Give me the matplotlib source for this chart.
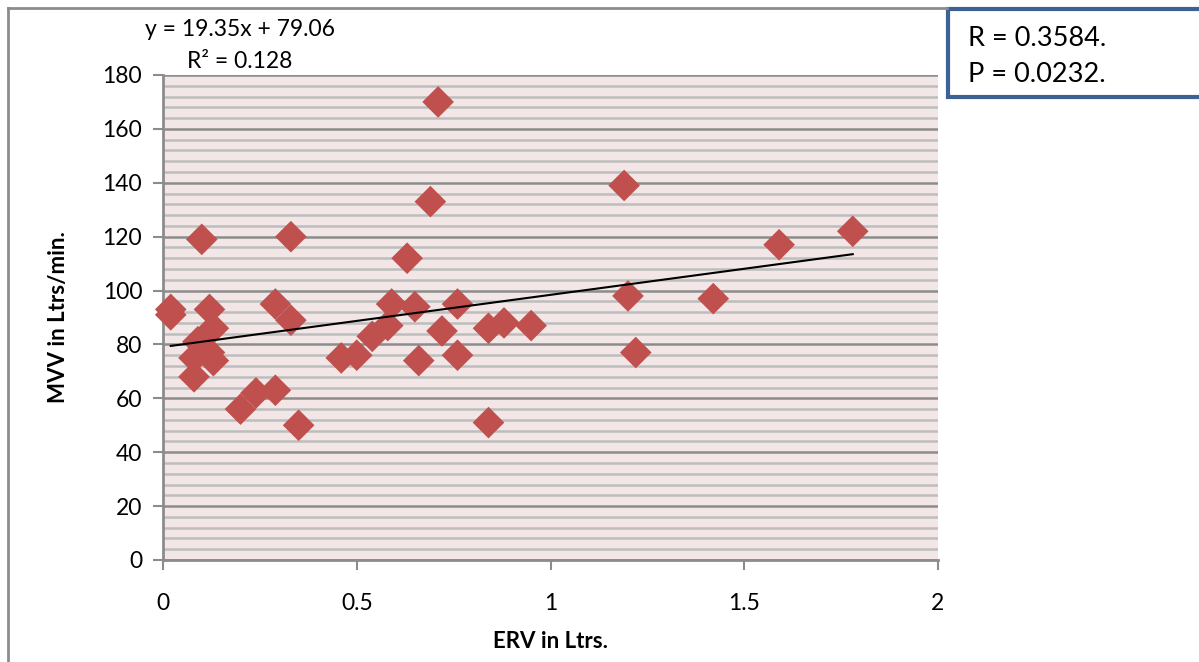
import numpy as np
import matplotlib.pyplot as plt
from matplotlib.patches import Rectangle
from matplotlib.lines import Line2D

# ERV (Ltrs) vs MVV (Ltrs/min)
erv = [0.02, 0.02, 0.10, 0.12, 0.13, 0.09, 0.08, 0.12, 0.13, 0.08,
       0.20, 0.24, 0.29, 0.29, 0.33, 0.33, 0.35, 0.46, 0.50, 0.54,
       0.58, 0.59, 0.63, 0.65, 0.66, 0.71, 0.69, 0.72, 0.76, 0.76,
       0.84, 0.84, 0.88, 0.95, 1.19, 1.20, 1.22, 1.42, 1.59, 1.78]
mvv = [93, 91, 119, 93, 86, 81, 75, 77, 74, 68,
       56, 62, 63, 95, 120, 89, 50, 75, 76, 83,
       87, 95, 112, 94, 74, 170, 133, 85, 95, 76,
       86, 51, 88, 87, 139, 98, 77, 97, 117, 122]

slope = 19.35
intercept = 79.06
r2_text = "R\u00b2 = 0.128"
stats_lines = ["R = 0.3584.", "P = 0.0232."]

plt.rcParams['font.family'] = ['Lato', 'DejaVu Sans']

fig = plt.figure(figsize=(11.99, 6.62), dpi=100)
ax = fig.add_axes([163 / 1199, 1 - 560 / 662, 775 / 1199, 485 / 662])
ax.set_facecolor('#F2E7E6')

ax.set_xlim(0, 2)
ax.set_ylim(0, 180)
ax.set_xticks([0, 0.5, 1, 1.5, 2])
ax.set_xticklabels(['0', '0.5', '1', '1.5', '2'])
ax.set_yticks(np.arange(0, 181, 20))
ax.set_yticks(np.arange(0, 181, 4), minor=True)

ax.grid(True, which='major', axis='y', color='#8C8C8C', linewidth=1.8)
ax.grid(True, which='minor', axis='y', color='#BDBDBD', linewidth=1.8)
ax.set_axisbelow(True)
ax.tick_params(axis='y', which='minor', length=0)
ax.tick_params(axis='both', which='major', direction='out', length=7,
               color='#8C8C8C', width=1.5, labelsize=16.5, pad=8)
ax.tick_params(axis='x', pad=17)

for side in ['top', 'right']:
    ax.spines[side].set_visible(False)
for side in ['left', 'bottom']:
    ax.spines[side].set_color('#8C8C8C')
    ax.spines[side].set_linewidth(2)

ax.scatter(erv, mvv, marker='D', s=260, color='#C0504D', edgecolors='none',
           zorder=3, clip_on=False)

xs = np.array([min(erv), max(erv)])
ax.plot(xs, slope * xs + intercept, color='black', linewidth=1.5, zorder=4)

ax.set_xlabel('ERV in Ltrs.', fontsize=16, fontweight='bold', labelpad=12)
ax.set_ylabel('MVV in Ltrs/min.', fontsize=16, fontweight='bold', labelpad=24)

fig.text(240 / 1199, 1 - 30 / 662, f"y = {slope}x + {intercept}",
         ha='center', va='center', fontsize=16.5)
fig.text(240 / 1199, 1 - 62 / 662, r2_text, ha='center', va='center',
         fontsize=16.5)

# outer chart border (partially visible)
fig.add_artist(Line2D([8 / 1199, 8 / 1199], [0, 1 - 8 / 662],
                      transform=fig.transFigure, color='#8C8C8C', lw=2))
fig.add_artist(Line2D([8 / 1199, 947 / 1199], [1 - 8 / 662, 1 - 8 / 662],
                      transform=fig.transFigure, color='#8C8C8C', lw=2))

# stats box
fig.add_artist(Rectangle((948 / 1199, 1 - 97 / 662), 300 / 1199, 88 / 662,
                         transform=fig.transFigure, facecolor='white',
                         edgecolor='#3C6195', linewidth=3))
fig.text(968 / 1199, 1 - 38 / 662, stats_lines[0], ha='left', va='center',
         fontsize=19.5)
fig.text(968 / 1199, 1 - 74 / 662, stats_lines[1], ha='left', va='center',
         fontsize=19.5)

fig.savefig('out.png', dpi=100)
